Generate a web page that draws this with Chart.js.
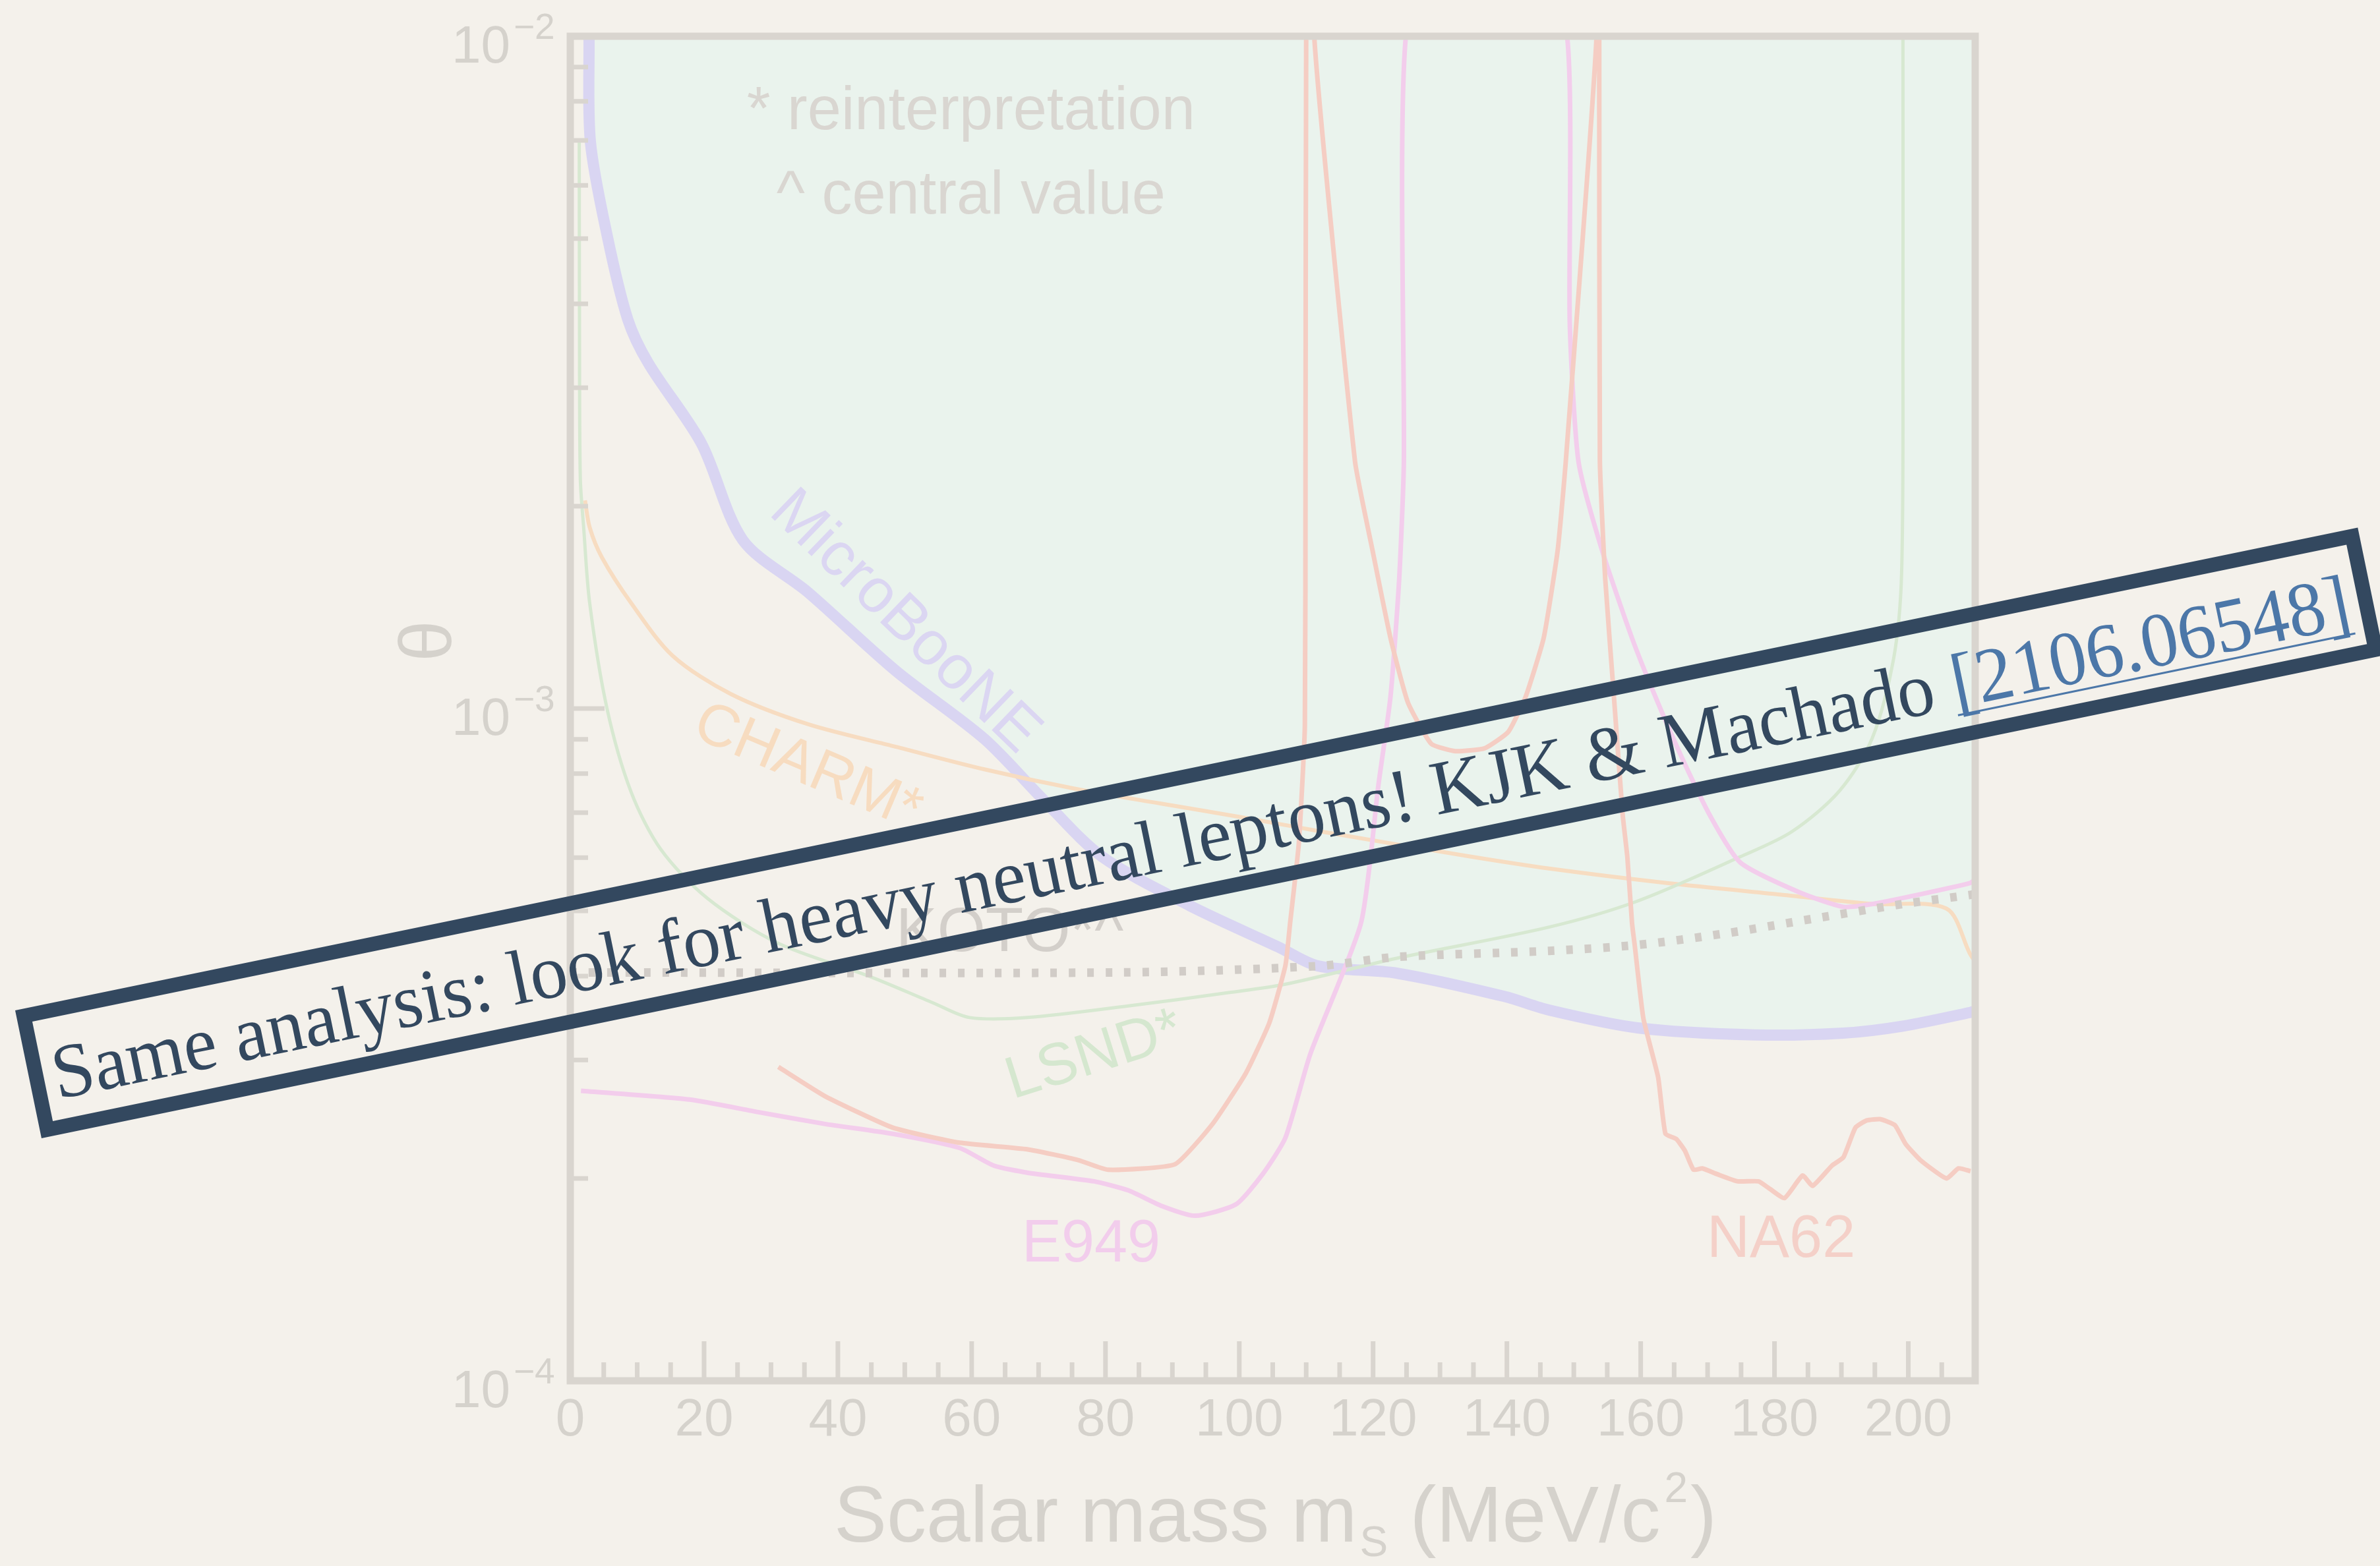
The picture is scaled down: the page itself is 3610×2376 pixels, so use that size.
<!DOCTYPE html>
<html>
<head>
<meta charset="utf-8">
<script src="https://cdn.jsdelivr.net/npm/chart.js@4.4.1/dist/chart.umd.min.js"></script>
<style>
  html, body { margin: 0; padding: 0; background: #f4f1eb; }
  canvas { display: block; }
</style>
</head>
<body>
<canvas id="c" width="3610" height="2376"></canvas>
<script>
// ---- Limits on the scalar mixing angle theta vs scalar mass (MeV/c^2) ----

const xTickValues = [0, 20, 40, 60, 80, 100, 120, 140, 160, 180, 200];
const yDecades = [1e-4, 1e-3, 1e-2];
const yDecadeExponents = ['\u22124', '\u22123', '\u22122'];

// MicroBooNE (excluded region lies above this curve)
const microbooneMass  = [2.8, 3.0, 5.5, 8.6, 11.7, 19.6, 25.8, 35.5, 48.7, 61.9, 70.7, 79.4, 92.6, 105.8, 111.8, 123.5, 139.6, 146.3, 159.5, 177.1, 190.3, 199.2, 209.2, 210];
const microbooneTheta = [1.0e-2, 6.98e-3, 5.06e-3, 3.79e-3, 3.26e-3, 2.48e-3, 1.78e-3, 1.49e-3, 1.137e-3, 9.01e-4, 7.32e-4, 6.03e-4, 5.09e-4, 4.42e-4, 4.14e-4, 4.04e-4, 3.73e-4, 3.56e-4, 3.35e-4, 3.27e-4, 3.29e-4, 3.37e-4, 3.53e-4, 3.55e-4];

// CHARM (reinterpretation)
const charmMass  = [2.2, 2.9, 4.7, 9.1, 15.3, 24.0, 35.5, 48.7, 61.9, 75.1, 88.3, 101.5, 112.3, 134.2, 146.3, 163.9, 181.5, 194.7, 205.7, 209.2, 210];
const charmTheta = [2.04e-3, 1.86e-3, 1.68e-3, 1.435e-3, 1.198e-3, 1.051e-3, 9.48e-4, 8.77e-4, 8.12e-4, 7.61e-4, 7.22e-4, 6.86e-4, 6.56e-4, 6.03e-4, 5.78e-4, 5.50e-4, 5.28e-4, 5.12e-4, 5.04e-4, 4.32e-4, 4.2e-4];

// LSND (reinterpretation)
const lsndMass  = [1.34, 1.38, 1.5, 2.0, 2.9, 5.5, 9.1, 13.5, 20.5, 31.0, 44.6, 54.2, 59.7, 68.3, 83.4, 98.4, 106.9, 123.5, 146.3, 159.5, 174.9, 182.6, 189.7, 194.6, 197.8, 199.0, 199.2, 199.2];
const lsndTheta = [6.98e-3, 3.66e-3, 2.2e-3, 1.86e-3, 1.435e-3, 9.99e-4, 7.51e-4, 6.18e-4, 5.22e-4, 4.48e-4, 4.00e-4, 3.65e-4, 3.47e-4, 3.47e-4, 3.61e-4, 3.78e-4, 3.89e-4, 4.25e-4, 4.73e-4, 5.17e-4, 6.02e-4, 6.56e-4, 7.54e-4, 9.03e-4, 1.185e-3, 1.589e-3, 3.66e-3, 1.0e-2];

// KOTO (central value)
const kotoMass  = [0, 82.3, 111.8, 123.5, 146.3, 159.5, 172.7, 185.9, 199.2, 209.2, 210];
const kotoTheta = [4.05e-4, 4.05e-4, 4.14e-4, 4.27e-4, 4.36e-4, 4.45e-4, 4.63e-4, 4.87e-4, 5.12e-4, 5.28e-4, 5.30e-4];

// E949
const e949Mass  = [1.6, 17.8, 28.1, 38.1, 48.2, 58.2, 63.3, 68.3, 78.3, 83.4, 88.4, 93.4, 99.5, 103.5, 106.9, 110.6, 118.2, 120.8, 122.6, 123.9, 124.6, 124.9, 137.0, 149.0, 149.4, 150.7, 154.2, 158.7, 162.2, 166.0, 170.5, 174.9, 183.7, 190.3, 194.7, 201.3, 209.2, 210];
const e949Theta = [2.70e-4, 2.62e-4, 2.51e-4, 2.41e-4, 2.33e-4, 2.22e-4, 2.09e-4, 2.04e-4, 1.98e-4, 1.92e-4, 1.82e-4, 1.76e-4, 1.83e-4, 2.03e-4, 2.30e-4, 3.06e-4, 4.80e-4, 7.70e-4, 1.041e-3, 1.558e-3, 2.33e-3, 1.0e-2, 5.0e-2, 1.0e-2, 3.74e-3, 2.33e-3, 1.722e-3, 1.273e-3, 1.041e-3, 8.52e-4, 6.89e-4, 5.90e-4, 5.33e-4, 5.07e-4, 5.12e-4, 5.28e-4, 5.50e-4, 5.57e-4];

// NA62
const na62Mass  = [31.1, 38.1, 48.2, 58.2, 68.3, 75.9, 80.4, 90.4, 96.0, 101.0, 104.5, 106.9, 107.6, 108.9, 109.8, 109.9, 110.0, 110.6, 111.2, 117.3, 119.9, 122.6, 125.2, 128.7, 132.3, 136.7, 140.2, 142.8, 145.5, 147.6, 148.8, 153.4, 153.6, 153.8, 153.9, 154.7, 156.0, 157.3, 158.0, 158.7, 159.1, 160.4, 162.6, 163.7, 165.3, 166.6, 167.9, 169.2, 171.4, 174.5, 177.6, 179.3, 181.5, 184.2, 185.7, 188.6, 190.3, 192.1, 193.8, 195.8, 198.0, 199.6, 201.8, 205.7, 207.5, 209.3];
const na62Theta = [2.93e-4, 2.65e-4, 2.38e-4, 2.26e-4, 2.21e-4, 2.13e-4, 2.06e-4, 2.10e-4, 2.41e-4, 2.87e-4, 3.41e-4, 4.15e-4, 4.80e-4, 6.30e-4, 9.41e-4, 2.33e-3, 1.0e-2, 3.0e-2, 1.0e-2, 2.33e-3, 1.722e-3, 1.273e-3, 1.021e-3, 8.86e-4, 8.64e-4, 8.73e-4, 9.23e-4, 1.041e-3, 1.273e-3, 1.722e-3, 2.33e-3, 1.0e-2, 3.0e-2, 1.0e-2, 2.33e-3, 1.558e-3, 1.041e-3, 6.96e-4, 6.02e-4, 4.80e-4, 4.45e-4, 3.46e-4, 2.83e-4, 2.33e-4, 2.29e-4, 2.20e-4, 2.06e-4, 2.07e-4, 2.03e-4, 1.98e-4, 1.98e-4, 1.93e-4, 1.87e-4, 2.02e-4, 1.95e-4, 2.09e-4, 2.15e-4, 2.38e-4, 2.44e-4, 2.45e-4, 2.40e-4, 2.25e-4, 2.13e-4, 2.00e-4, 2.07e-4, 2.05e-4];

// ---- styling ----
const FILL = '#eaf3ed';
const AXIS = '#d9d5cf';
const GRAY_TXT = '#d5d2cc';
const BLUE = '#d9d5f2';
const ORANGE = '#f7dcc1';
const GREEN = '#d7e8d1';
const RED = '#f5cdc3';
const PINK = '#f3cdec';
const DOT = '#d1ccc7';
const NAVY = '#33485f';
const LINK = '#4c77a8';
const SANS = '"Liberation Sans", Arial, sans-serif';
const SERIF = '"Liberation Serif", "Times New Roman", serif';

const pairs = (ms, ts) => ms.map((m, i) => ({ x: m, y: ts[i] }));

// text placed in data coordinates (mass, theta)
const curveLabels = [
  { text: '* reinterpretation', m: 59.9, t: 7.27e-3, rot: 0, align: 'center', base: 'alphabetic', size: 92, color: '#d9d6d1' },
  { text: '^ central value',    m: 59.9, t: 5.45e-3, rot: 0, align: 'center', base: 'alphabetic', size: 92, color: '#d9d6d1' },
  { text: 'MicroBooNE', m: 49.96, t: 1.344e-3, rot: 44, align: 'center', base: 'middle', size: 94, color: '#dbd6f2' },
  { text: 'CHARM*', m: 35.47, t: 8.16e-4, rot: 23, align: 'center', base: 'middle', size: 90, color: '#f7dcc0' },
  { text: 'KOTO*^', m: 48.68, t: 4.36e-4, rot: 0, align: 'left', base: 'alphabetic', size: 94, color: '#d3cfca' },
  { text: 'LSND*', m: 78.34, t: 3.04e-4, rot: -17.5, align: 'center', base: 'middle', size: 90, color: '#d5e7cf' },
  { text: 'E949', m: 67.5, t: 1.504e-4, rot: 0, align: 'left', base: 'alphabetic', size: 90, color: '#f2cdec' },
  { text: 'NA62', m: 169.9, t: 1.528e-4, rot: 0, align: 'left', base: 'alphabetic', size: 90, color: '#f4d0c8' }
];

const axesDecor = {
  id: 'axesDecor',
  afterDatasetsDraw(chart) {
    const { ctx, chartArea: a, scales: { x, y } } = chart;
    ctx.save();
    // inward tick marks
    ctx.strokeStyle = AXIS;
    ctx.lineWidth = 7;
    ctx.lineCap = 'butt';
    ctx.beginPath();
    for (let v = 0; v <= 205; v += 5) {
      const px = x.getPixelForValue(v);
      const len = v % 20 === 0 ? 60 : 28;
      ctx.moveTo(px, a.bottom);
      ctx.lineTo(px, a.bottom - len);
    }
    for (let d = -4; d <= -2; d++) {
      for (let k = 1; k <= 9; k++) {
        const v = k * Math.pow(10, d);
        if (v > 1.0001e-2) break;
        const py = y.getPixelForValue(v);
        const len = k === 1 ? 52 : 27;
        ctx.moveTo(a.left, py);
        ctx.lineTo(a.left + len, py);
      }
    }
    ctx.stroke();
    // frame
    ctx.lineWidth = 11;
    ctx.strokeRect(a.left, a.top, a.right - a.left, a.bottom - a.top);

    // y decade labels 10^n
    ctx.fillStyle = GRAY_TXT;
    yDecades.forEach((v, i) => {
      const py = y.getPixelForValue(v);
      ctx.font = '80px ' + SANS;
      ctx.textAlign = 'right';
      ctx.textBaseline = 'alphabetic';
      ctx.fillText('10', a.left - 91, py + 40);
      ctx.font = '55px ' + SANS;
      ctx.textAlign = 'left';
      ctx.fillText(yDecadeExponents[i], a.left - 86, py + 4);
    });

    // y title
    ctx.save();
    ctx.translate(a.left - 212, y.getPixelForValue(1.26e-3));
    ctx.rotate(-Math.PI / 2);
    ctx.font = '112px ' + SANS;
    ctx.textAlign = 'center';
    ctx.textBaseline = 'middle';
    ctx.fillText('\u03b8', 0, 0);
    ctx.restore();

    // x title with subscript / superscript
    const big = '120px ' + SANS, small = '64px ' + SANS;
    const parts = [
      { t: 'Scalar mass m', f: big, dy: 0, gap: 0 },
      { t: 'S', f: small, dy: 22, gap: 4 },
      { t: ' (MeV/c', f: big, dy: 0, gap: 0 },
      { t: '2', f: small, dy: -60, gap: 6 },
      { t: ')', f: big, dy: 0, gap: 4 }
    ];
    let total = 0;
    parts.forEach(p => { ctx.font = p.f; p.w = ctx.measureText(p.t).width; total += p.w + p.gap; });
    let cx = (a.left + a.right) / 2 + 4 - total / 2;
    const baseY = a.bottom + 244;
    ctx.textAlign = 'left';
    ctx.textBaseline = 'alphabetic';
    parts.forEach(p => {
      cx += p.gap;
      ctx.font = p.f;
      ctx.fillText(p.t, cx, baseY + p.dy);
      cx += p.w;
    });

    // curve labels
    curveLabels.forEach(l => {
      ctx.save();
      ctx.translate(x.getPixelForValue(l.m), y.getPixelForValue(l.t));
      ctx.rotate(l.rot * Math.PI / 180);
      ctx.font = l.size + 'px ' + SANS;
      ctx.fillStyle = l.color;
      ctx.textAlign = l.align;
      ctx.textBaseline = l.base;
      ctx.fillText(l.text, 0, 0);
      ctx.restore();
    });
    ctx.restore();
  }
};

// tilted boxed caption across the figure
const caption = {
  id: 'caption',
  afterDraw(chart) {
    const ctx = chart.ctx;
    const W = 3628, H = 198, B = 22;
    ctx.save();
    ctx.translate(23, 1533);
    ctx.rotate(-11.65 * Math.PI / 180);
    ctx.strokeStyle = NAVY;
    ctx.lineWidth = B;
    ctx.strokeRect(B / 2, B / 2, W - B, H - B);

    const main = 'Same analysis: look for heavy neutral leptons! KJK & Machado ';
    const link = '[2106.06548]';
    ctx.font = '117px ' + SERIF;
    const w1 = ctx.measureText(main).width;
    const w2 = ctx.measureText(link).width;
    const target = 3556;
    const sx = target / (w1 + w2);
    ctx.translate(W / 2 - target / 2, 145);
    ctx.scale(sx, 1);
    ctx.textAlign = 'left';
    ctx.textBaseline = 'alphabetic';
    ctx.fillStyle = NAVY;
    ctx.fillText(main, 0, 0);
    ctx.fillStyle = LINK;
    ctx.fillText(link, w1, 0);
    ctx.fillRect(w1, 10, w2, 3);
    ctx.restore();
  }
};

new Chart(document.getElementById('c'), {
  type: 'line',
  data: {
    datasets: [
      { label: 'KOTO', data: pairs(kotoMass, kotoTheta), borderColor: DOT, borderWidth: 13, borderDash: [10, 18], borderCapStyle: 'butt', tension: 0.3, pointRadius: 0, fill: false },
      { label: 'NA62', data: pairs(na62Mass, na62Theta), borderColor: RED, borderWidth: 7, tension: 0.15, pointRadius: 0, fill: false },
      { label: 'E949', data: pairs(e949Mass, e949Theta), borderColor: PINK, borderWidth: 7, tension: 0.2, pointRadius: 0, fill: false },
      { label: 'LSND', data: pairs(lsndMass, lsndTheta), borderColor: GREEN, borderWidth: 5, tension: 0.3, pointRadius: 0, fill: false },
      { label: 'CHARM', data: pairs(charmMass, charmTheta), borderColor: ORANGE, borderWidth: 6, tension: 0.3, pointRadius: 0, fill: false },
      { label: 'MicroBooNE', data: pairs(microbooneMass, microbooneTheta), borderColor: BLUE, borderWidth: 17, tension: 0.3, pointRadius: 0, fill: 'end', backgroundColor: FILL }
    ]
  },
  options: {
    responsive: false,
    animation: false,
    devicePixelRatio: 1,
    layout: { padding: { left: 865, right: 614, top: 55, bottom: 0 } },
    scales: {
      x: {
        type: 'linear', min: 0, max: 210,
        afterBuildTicks: s => { s.ticks = xTickValues.map(v => ({ value: v })); },
        afterFit: s => { s.height = 281; },
        grid: { display: false, drawTicks: false },
        border: { display: false },
        ticks: { font: { family: 'Liberation Sans', size: 80 }, color: GRAY_TXT, padding: 13, maxRotation: 0, autoSkip: false }
      },
      y: { type: 'logarithmic', min: 1e-4, max: 1e-2, display: false }
    },
    plugins: {
      legend: { display: false },
      tooltip: { enabled: false },
      filler: { drawTime: 'beforeDatasetsDraw' }
    }
  },
  plugins: [axesDecor, caption]
});
</script>
</body>
</html>
